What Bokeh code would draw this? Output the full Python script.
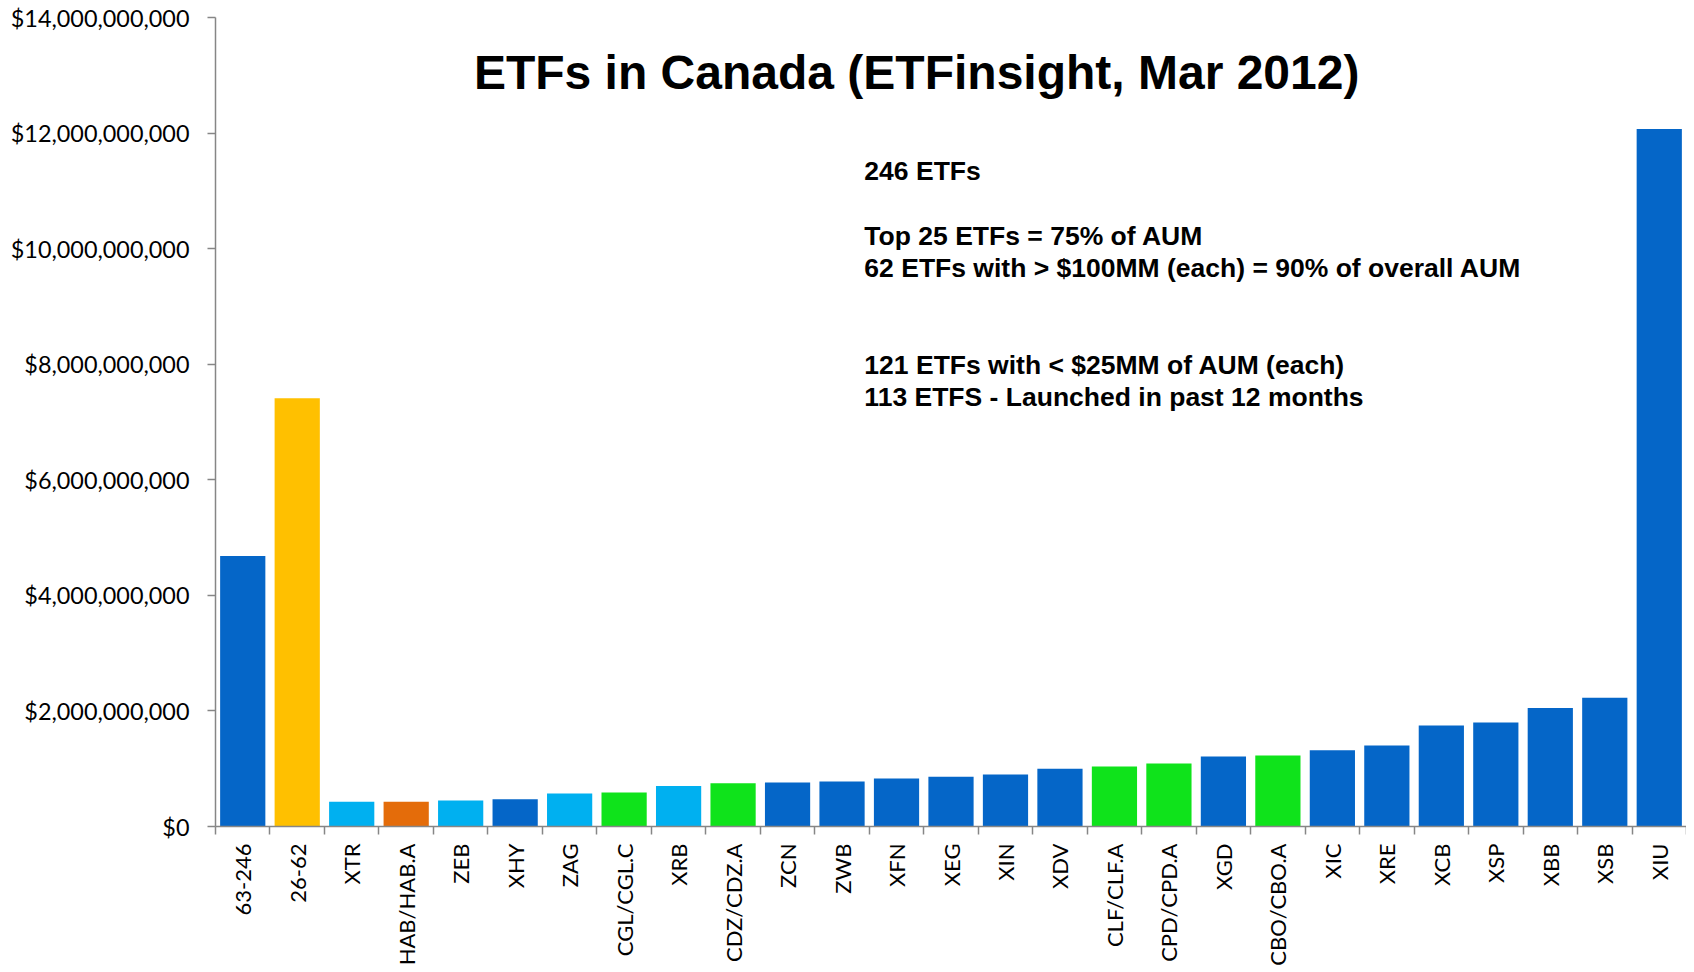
import math
from bokeh.plotting import figure
from bokeh.models import (ColumnDataSource, Range1d, FixedTicker, SingleIntervalTicker,
                          NumeralTickFormatter, Label)
from bokeh.embed import file_html
from bokeh.resources import INLINE

# ---- data ----
tickers = ["63-246", "26-62", "XTR", "HAB/HAB.A", "ZEB", "XHY", "ZAG", "CGL/CGL.C", "XRB",
           "CDZ/CDZ.A", "ZCN", "ZWB", "XFN", "XEG", "XIN", "XDV", "CLF/CLF.A", "CPD/CPD.A",
           "XGD", "CBO/CBO.A", "XIC", "XRE", "XCB", "XSP", "XBB", "XSB", "XIU"]
aum = [4.68e9, 7.41e9, 0.43e9, 0.43e9, 0.45e9, 0.47e9, 0.57e9, 0.59e9, 0.70e9,
       0.75e9, 0.76e9, 0.78e9, 0.83e9, 0.86e9, 0.90e9, 1.00e9, 1.04e9, 1.09e9,
       1.21e9, 1.23e9, 1.32e9, 1.40e9, 1.75e9, 1.80e9, 2.05e9, 2.23e9, 12.07e9]
group = ["blue", "yellow", "light", "orange", "light", "blue", "light", "green", "light",
         "green", "blue", "blue", "blue", "blue", "blue", "blue", "green", "green",
         "blue", "green", "blue", "blue", "blue", "blue", "blue", "blue", "blue"]
y_ticks_interval = 2e9
title_text = "ETFs in Canada (ETFinsight, Mar 2012)"
notes = ["246 ETFs",
         "Top 25 ETFs = 75% of AUM",
         "62 ETFs with > $100MM (each) = 90% of overall AUM",
         "121 ETFs with < $25MM of AUM (each)",
         "113 ETFS - Launched in past 12 months"]

# ---- styles ----
palette = {"blue": "#0566C8", "light": "#00B0F0", "green": "#0FE31B",
           "orange": "#E46C0A", "yellow": "#FFC000"}
colors = [palette[g] for g in group]
positions = list(range(len(tickers)))

src = ColumnDataSource(dict(x=positions, top=aum, name=tickers, color=colors))

p = figure(frame_width=1471, frame_height=809, output_backend="svg", toolbar_location=None,
           x_range=Range1d(-0.5, len(tickers) - 0.5), y_range=Range1d(0, 14e9),
           min_border_left=215, min_border_top=17, min_border_bottom=0, min_border_right=0)
p.outline_line_color = None
p.xgrid.visible = False
p.ygrid.visible = False
p.background_fill_color = "white"

p.vbar(x="x", top="top", width=0.83, source=src, fill_color="color", line_color=None)

axis_gray = "#868686"
tick_font = "Lato"

# y axis
ya = p.yaxis[0]
ya.ticker = SingleIntervalTicker(interval=y_ticks_interval, num_minor_ticks=0)
ya.formatter = NumeralTickFormatter(format="$0,0")
ya.axis_line_color = axis_gray
ya.axis_line_width = 1.5
ya.major_tick_line_color = axis_gray
ya.major_tick_line_width = 1.5
ya.major_tick_out = 8
ya.major_tick_in = 0
ya.minor_tick_line_color = None
ya.major_label_standoff = 18
ya.major_label_text_font = tick_font
ya.major_label_text_font_size = "23.4px"
ya.major_label_text_color = "black"

# x axis
xa = p.xaxis[0]
xa.ticker = FixedTicker(ticks=positions,
                        minor_ticks=[i - 0.5 for i in range(len(tickers) + 1)])
xa.major_label_overrides = {i: t for i, t in enumerate(tickers)}
xa.axis_line_color = axis_gray
xa.axis_line_width = 1.5
xa.major_tick_line_color = None
xa.major_tick_out = 0
xa.major_tick_in = 0
xa.minor_tick_line_color = axis_gray
xa.minor_tick_line_width = 1.5
xa.minor_tick_out = 8
xa.minor_tick_in = 0
xa.major_label_orientation = math.pi / 2
xa.major_label_standoff = 9
xa.major_label_text_font = tick_font
xa.major_label_text_font_size = "22px"
xa.major_label_text_color = "black"

# title inside plot
p.add_layout(Label(x=12.37, y=13.04e9, text=title_text, text_align="center",
                   text_baseline="alphabetic", text_font="Liberation Sans",
                   text_font_style="bold", text_font_size="48px", text_color="black"))

note_y = [11.34e9, 10.22e9, 9.66e9, 7.99e9, 7.43e9]
for t, yy in zip(notes, note_y):
    p.add_layout(Label(x=11.41, y=yy, text=t, text_align="left",
                       text_baseline="alphabetic", text_font="Liberation Sans",
                       text_font_style="bold", text_font_size="26.5px", text_color="black"))

open("out.html", "w").write(file_html(p, INLINE))
